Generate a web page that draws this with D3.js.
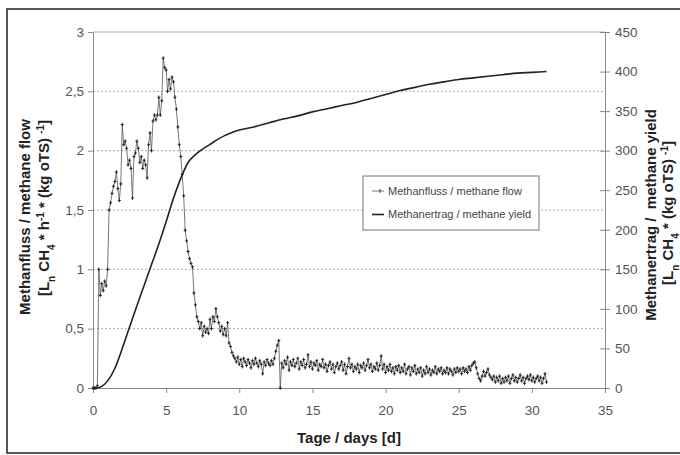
<!DOCTYPE html>
<html lang="de">
<head>
    <meta charset="UTF-8">
    <title>Methanfluss / Methanertrag</title>
    <style>
        body { margin: 0; background: #fff; }
        svg { display: block; font-family: "Liberation Sans", Arial, sans-serif; }
    </style>
</head>
<body>
    <svg width="680" height="455"></svg>
    <script src="https://d3js.org/d3.v7.min.js"></script>
    <script>
        // methane flow, one reading every 0.1 day starting at day 0
        const flowStep = 0.1
        const flowValues = [
            0, 0, 0, 0.02, 1.0, 0.78, 0.88, 0.82, 0.9, 0.86,
            1.0, 1.5, 1.56, 1.64, 1.7, 1.74, 1.82, 1.68, 1.58, 1.72,
            2.22, 2.05, 2.08, 2.02, 1.88, 1.92, 1.85, 1.6, 1.95, 1.98,
            2.08, 2.02, 1.9, 1.95, 1.85, 1.92, 1.88, 1.77, 2.05, 2.15,
            2.0, 2.25, 2.3, 2.26, 2.3, 2.45, 2.3, 2.42, 2.78, 2.7,
            2.68, 2.5, 2.6, 2.52, 2.62, 2.58, 2.45, 2.35, 2.2, 2.05,
            1.95, 1.8, 1.62, 1.33, 1.24, 1.15, 1.09, 1.05, 1.02, 0.8,
            0.7, 0.6, 0.56, 0.5, 0.55, 0.44, 0.52, 0.47, 0.5, 0.46,
            0.58, 0.5, 0.6, 0.56, 0.67, 0.6, 0.55, 0.48, 0.52, 0.45,
            0.5, 0.44, 0.55, 0.38, 0.35, 0.3, 0.27, 0.25, 0.22, 0.26,
            0.2, 0.24, 0.18, 0.25, 0.22, 0.19, 0.24, 0.21, 0.17, 0.23,
            0.2, 0.25, 0.21, 0.18, 0.23, 0.2, 0.12, 0.22, 0.19, 0.24,
            0.21, 0.19, 0.23, 0.2, 0.25, 0.31, 0.36, 0.4, 0.0, 0.21,
            0.17, 0.23, 0.2, 0.26, 0.15, 0.22, 0.19, 0.24, 0.18, 0.21,
            0.25, 0.16, 0.22, 0.19, 0.24, 0.17, 0.2, 0.28, 0.18, 0.22,
            0.16, 0.21, 0.19, 0.23, 0.15, 0.2, 0.18, 0.24, 0.17, 0.2,
            0.14, 0.19, 0.22, 0.16, 0.2, 0.13, 0.18, 0.21, 0.16, 0.19,
            0.22, 0.15, 0.2, 0.12, 0.18, 0.25, 0.17, 0.2, 0.14, 0.18,
            0.16, 0.2, 0.13, 0.19, 0.17, 0.21, 0.15, 0.19, 0.24, 0.17,
            0.2, 0.14, 0.18, 0.16, 0.21, 0.15, 0.19, 0.27, 0.16, 0.2,
            0.13, 0.18, 0.15, 0.2, 0.14, 0.17, 0.12, 0.18, 0.15, 0.19,
            0.13, 0.17, 0.14, 0.2, 0.12, 0.16, 0.18, 0.11, 0.17, 0.14,
            0.19, 0.12, 0.16, 0.13, 0.17, 0.1, 0.15, 0.12, 0.18, 0.13,
            0.16, 0.11, 0.15, 0.13, 0.18, 0.12, 0.16, 0.14, 0.17, 0.12,
            0.15, 0.13, 0.17, 0.12, 0.16, 0.14, 0.11, 0.16, 0.13, 0.17,
            0.14, 0.16, 0.12, 0.17, 0.14, 0.16, 0.13, 0.18, 0.15, 0.19,
            0.21, 0.22, 0.17, 0.12, 0.08, 0.06, 0.1, 0.14, 0.1, 0.13,
            0.16, 0.11, 0.09, 0.07, 0.1, 0.05, 0.09, 0.06, 0.1, 0.04,
            0.08, 0.05, 0.09, 0.06, 0.1, 0.04, 0.08, 0.11, 0.06, 0.09,
            0.05, 0.08, 0.11, 0.06, 0.09, 0.04, 0.08, 0.1, 0.07, 0.11,
            0.06, 0.09, 0.05, 0.08, 0.1, 0.06, 0.09, 0.04, 0.08, 0.12,
            0.05
        ]

        // cumulative methane yield
        const yieldDays = [0, 0.3, 0.6, 1, 1.5, 2, 2.5, 3, 3.5, 4, 4.5, 5, 5.5, 6, 6.5, 7, 7.5, 8, 8.5, 9, 9.5, 10,
            11, 12, 13, 14, 15, 16, 17, 18, 19, 20, 21, 22, 23, 24, 25, 26, 27, 28, 29, 30, 31]
        const yieldValues = [0, 0, 2, 9, 25, 50, 77, 104, 130, 156, 182, 210, 240, 265, 285, 295, 302, 308, 314, 319, 323, 326,
            330, 335, 340, 344, 349, 353, 357, 361, 366, 371, 376, 380, 384, 387, 390, 392, 394, 396, 398, 399, 400]

        const xTicks = [0, 5, 10, 15, 20, 25, 30, 35]
        const leftTicks = [0, 0.5, 1, 1.5, 2, 2.5, 3]
        const rightTicks = [0, 50, 100, 150, 200, 250, 300, 350, 400, 450]
        const legendLabels = ['Methanfluss / methane flow', 'Methanertrag / methane yield']

        const plot = { left: 93, right: 605, top: 32, bottom: 388 }
        const svg = d3.select('svg')

        const x = d3.scaleLinear().domain([0, 35]).range([plot.left, plot.right])
        const yL = d3.scaleLinear().domain([0, 3]).range([plot.bottom, plot.top])
        const yR = d3.scaleLinear().domain([0, 450]).range([plot.bottom, plot.top])
        const comma = v => String(v).replace('.', ',')

        // outer frame
        svg.append('rect')
            .attr('x', 7).attr('y', 9)
            .attr('width', 700).attr('height', 444)
            .attr('fill', 'none')
            .attr('stroke', '#222')
            .attr('stroke-width', 1.5)

        // gridlines
        svg.append('g').selectAll('line')
            .data(leftTicks.filter(t => t > 0))
            .enter().append('line')
                .attr('x1', plot.left).attr('x2', plot.right)
                .attr('y1', d => yL(d)).attr('y2', d => yL(d))
                .attr('stroke', '#aaa')
                .attr('stroke-dasharray', d => d === 3 ? null : '2,2')

        const styleAxis = g => {
            g.select('.domain').attr('stroke', '#888')
            g.selectAll('.tick line').attr('stroke', '#888')
            g.selectAll('.tick text')
                .attr('fill', '#555')
                .style('font-size', '13.5px')
        }

        svg.append('g')
            .attr('transform', `translate(${plot.left},0)`)
            .call(d3.axisLeft(yL).tickValues(leftTicks).tickFormat(comma).tickSize(5).tickSizeOuter(0).tickPadding(4))
            .call(styleAxis)

        svg.append('g')
            .attr('transform', `translate(${plot.right},0)`)
            .call(d3.axisRight(yR).tickValues(rightTicks).tickSize(5).tickSizeOuter(0).tickPadding(5))
            .call(styleAxis)
            .call(g => g.selectAll('.tick line').attr('x1', -5))

        svg.append('g')
            .attr('transform', `translate(0,${plot.bottom})`)
            .call(d3.axisBottom(x).tickValues(xTicks).tickSize(5).tickSizeOuter(0).tickPadding(12))
            .call(styleAxis)

        // yield curve
        const yieldLine = d3.line()
            .x((d, i) => x(yieldDays[i]))
            .y(d => yR(d))
            .curve(d3.curveMonotoneX)

        svg.append('path')
            .datum(yieldValues)
            .attr('d', yieldLine)
            .attr('fill', 'none')
            .attr('stroke', '#222')
            .attr('stroke-width', 1.6)

        // flow series with small cross markers
        const flowLine = d3.line()
            .x((d, i) => x(i * flowStep))
            .y(d => yL(d))

        svg.append('path')
            .datum(flowValues)
            .attr('d', flowLine)
            .attr('fill', 'none')
            .attr('stroke', '#555')
            .attr('stroke-width', 0.8)

        svg.append('g').selectAll('path')
            .data(flowValues)
            .enter().append('path')
                .attr('d', (d, i) => {
                    const px = x(i * flowStep), py = yL(d)
                    return `M${px - 1.5},${py}h3M${px},${py - 1.8}v3.6`
                })
                .attr('stroke', '#1a1a1a')
                .attr('stroke-width', 0.9)

        // axis titles
        const title = (g, parts) => {
            parts.forEach(p => {
                const t = g.append('tspan').text(p.t)
                if (p.s) t.attr('baseline-shift', p.s).style('font-size', '10px')
            })
        }

        svg.append('text')
            .attr('x', 349).attr('y', 443)
            .attr('text-anchor', 'middle')
            .style('font-weight', 'bold').style('font-size', '15px')
            .attr('fill', '#222')
            .text('Tage / days [d]')

        svg.append('text')
            .attr('transform', 'translate(30,217) rotate(-90)')
            .attr('text-anchor', 'middle')
            .style('font-weight', 'bold').style('font-size', '15px')
            .attr('fill', '#222')
            .text('Methanfluss / methane flow')

        const leftT2 = svg.append('text')
            .attr('transform', 'translate(49,208) rotate(-90)')
            .attr('text-anchor', 'middle')
            .style('font-weight', 'bold').style('font-size', '15px')
            .attr('fill', '#222')
        title(leftT2, [
            { t: '[L' }, { t: 'n', s: 'sub' }, { t: ' CH' }, { t: '4', s: 'sub' },
            { t: ' * h' }, { t: '-1', s: 'super' }, { t: ' * (kg oTS) ' }, { t: '-1', s: 'super' }, { t: ']' }
        ])

        svg.append('text')
            .attr('transform', 'translate(656,215) rotate(-90)')
            .attr('text-anchor', 'middle')
            .attr('xml:space', 'preserve')
            .style('font-weight', 'bold').style('font-size', '15px')
            .attr('fill', '#222')
            .text('Methanertrag /  methane yield')

        const rightT2 = svg.append('text')
            .attr('transform', 'translate(673,213) rotate(-90)')
            .attr('text-anchor', 'middle')
            .style('font-weight', 'bold').style('font-size', '15px')
            .attr('fill', '#222')
        title(rightT2, [
            { t: '[L' }, { t: 'n', s: 'sub' }, { t: ' CH' }, { t: '4', s: 'sub' },
            { t: ' * (kg oTS) ' }, { t: '-1', s: 'super' }, { t: ']' }
        ])

        // legend
        const legend = svg.append('g')
        legend.append('rect')
            .attr('x', 363).attr('y', 176)
            .attr('width', 176).attr('height', 54)
            .attr('fill', '#fff')
            .attr('stroke', '#777')

        const rows = legend.selectAll('g.row')
            .data(legendLabels)
            .enter().append('g')
                .attr('class', 'row')
                .attr('transform', (d, i) => `translate(0,${191 + i * 23.5})`)

        rows.append('line')
            .attr('x1', 372).attr('x2', 384)
            .attr('stroke', (d, i) => i ? '#222' : '#555')
            .attr('stroke-width', (d, i) => i ? 1.6 : 0.8)

        rows.filter((d, i) => i === 0).append('path')
            .attr('d', 'M380,-1.8v3.6')
            .attr('stroke', '#1a1a1a')
            .attr('stroke-width', 0.9)

        rows.append('text')
            .attr('x', 388).attr('y', 3.5)
            .style('font-size', '11px')
            .attr('fill', '#444')
            .text(d => d)
    </script>
</body>
</html>
